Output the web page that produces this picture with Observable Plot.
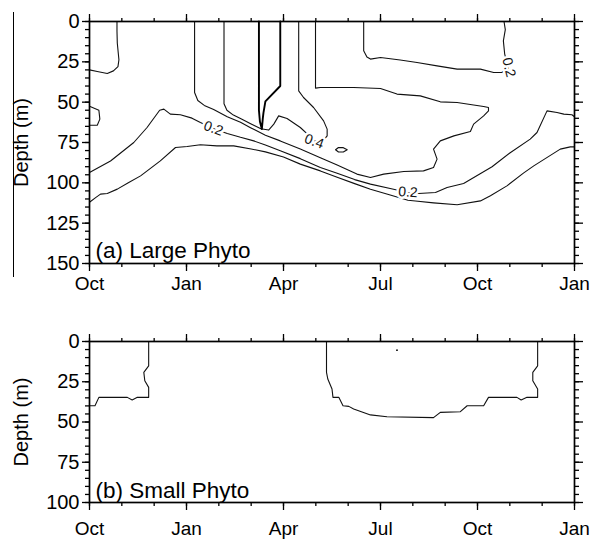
<!DOCTYPE html>
<html><head><meta charset="utf-8">
<script src="https://cdn.jsdelivr.net/npm/d3@7"></script>
<script src="https://cdn.jsdelivr.net/npm/@observablehq/plot@0.6"></script>
<style>
body{margin:0;background:#fff;}
#wrap{position:relative;width:590px;height:539px;overflow:hidden;font-family:"Liberation Sans",Arial,sans-serif;}
#wrap svg{display:block;}
#edge{position:absolute;left:13px;top:12px;height:265px;border-left:1px solid #000;}
</style></head><body>
<div id="wrap"><div id="edge"></div></div>
<script>
// x: months since October (0 = Oct, 15 = following-year Jan)
const monthTicks = [0, 3, 6, 9, 12, 15];
const monthLabels = ["Oct", "Jan", "Apr", "Jul", "Oct", "Jan"];
const minorMonths = [0,1,2,3,4,5,6,7,8,9,10,11,12,13,14,15];
const depthTicksA = [0, 25, 50, 75, 100, 125, 150];
const depthMinorA = [0,5,10,15,20,25,30,35,40,45,50,55,60,65,70,75,80,85,90,95,100,105,110,115,120,125,130,135,140,145,150];
const depthTicksB = [0, 25, 50, 75, 100];
const depthMinorB = [0,5,10,15,20,25,30,35,40,45,50,55,60,65,70,75,80,85,90,95,100];
const panelLabels = ["(a) Large Phyto", "(b) Small Phyto"];
const yTitle = "Depth (m)";

// Panel (a) contour lines: month, depth
const a1M = [0.85,0.85,0.86,0.91,0.88,0.74,0.55,0.24,0.0];
const a1D = [0,6,13.5,23.7,28,30.6,32.2,31,30];
const a2M = [0,0.29,0.32,0.24,0];
const a2D = [52.5,55,60.5,64.3,64.3];
const a3M = [0,0.65,1.37,1.78,2.17,2.3,2.5,2.81,3.17,3.43,3.83,4.26,4.67,5.08,5.44,5.9,6.52,7.14,7.66,8.2,8.69,9.3,9.85,10.18,10.7,11.06,11.57,12.45,13.0,13.63,13.84,14.15,14.46,14.67,14.92,15];
const a3D = [93.6,86.5,75,65.7,55,54.3,57.4,57.8,59.9,62.6,66.3,69.4,71.8,74,76.5,80.1,85,90.5,94,98,100.8,103.5,106,106.6,106,102.9,100.4,90,81.5,72.9,68.8,55.4,56.4,57.4,57.8,59];
const a4M = [0,0.2,0.34,0.55,0.86,1.2,1.58,2.19,2.66,3.02,3.43,3.94,4.46,5.0,5.44,6.0,6.52,7.14,7.66,8.2,8.69,9.3,9.85,10.08,10.64,11.37,12.09,12.4,12.91,13.42,13.74,14.56,14.87,15];
const a4D = [112,109,107,106.6,103.9,100,95.7,86.4,78.1,77.5,76.4,77.1,77.1,79,80.8,84,88.4,92.6,96.5,100.5,104,107.5,110.8,111.3,112.4,113.6,111.2,108,101.9,94,89.5,79.1,77.7,77.7];
const a5M = [3.25,3.25,3.35,3.55,3.84,4.26,4.67,4.98,5.44,5.9,6.52,7.14,7.66,8.27,8.69,9.1,9.72,10.33,10.64,10.75,10.64,10.85,11.27,11.78,11.88,12.19,12.34,12.34,12.19,11.88,11.37,10.85,10.23,9.51,9.0,8.17,7.14,6.99,6.99];
const a5D = [0,44,49,52,54.5,59,62.5,65.8,70.5,74,79.1,84.5,89,94.6,96.7,94.6,93,92.6,90.5,85.3,79.1,74,70.9,68.2,63.6,58.5,55.4,53.3,52.7,51.8,50.2,49.8,46.1,45,41.5,40.9,40.9,41.3,0];
const a6M = [4.16,4.16,4.25,4.45,4.7,5.0,5.3,5.54,5.7,5.85,6.11,6.52,6.75,6.95,7.2,7.35,7.35,7.24,6.93,6.62,6.47,6.47];
const a6D = [0,51,55,58,60.5,63.5,66.5,67.3,63.6,58.5,60.1,65.7,70,74,74.5,70.9,66.7,61.6,53.3,47.1,43,0];
const a7M = [5.24,5.24,5.27,5.33,5.36,5.38,5.44,5.9,5.9];
const a7D = [0,55,62,66.7,60,56.6,49.5,40,0];
const a8M = [7.61,7.7,7.85,7.97,7.85,7.7,7.61];
const a8D = [79.5,78.1,78.2,79.5,80.9,80.9,79.5];
const a9M = [12.82,12.86,12.8,12.84,12.9,12.95,12.75,12.5,12.09,11.37,10.75,10.13,9.61,9.0,8.69,8.58,8.48,8.48];
const a9D = [0,5,12,20,25,29,31.6,31.6,29.5,29.5,27.5,25.4,23.9,22.3,23.3,22,18.2,0];
// contour labels (a)
const aLabM = [3.83, 6.95, 9.85, 12.97];
const aLabD = [66.3, 74.3, 105.8, 28.5];
const aLabT = ["0.2", "0.4", "0.2", "0.2"];
const aLabR = [20, 20, 4, 76];

// Panel (b) contour lines
const b1M = [0,0.17,0.29,1.17,1.32,1.48,1.83,1.83,1.71,1.68,1.83,1.83];
const b1D = [39.9,39.9,34.7,34.7,36.3,34.7,34.7,28.5,24.4,19.2,15.1,0];
const b2M = [7.33,7.33,7.37,7.5,7.53,7.71,7.84,8.02,8.17,8.69,9.2,10.64,10.85,11.47,11.68,12.19,12.34,13.22,13.35,13.53,13.86,13.86,13.71,13.71,13.86,13.86];
const b2D = [0,19.2,23.3,29.5,34.7,34.7,39.9,40.3,41.9,45.6,46.7,47.3,44,43.6,39.9,39.9,34.7,34.7,36.3,34.7,34.7,29.5,24.4,19.2,15.1,0];
const bDotM = [9.51];
const bDotD = [5.4];

function rows(id, ms, ds) { return ms.map((m, i) => ({id, m, d: ds[i]})); }
const fmtMonth = m => monthLabels[monthTicks.indexOf(m)];
const FONT = '"Liberation Sans", Arial, Helvetica, sans-serif';

function axes(yTicks, yMinor, padX) {
  const k = {stroke: "#000", strokeWidth: 1.3, color: "#000"};
  return [
    Plot.axisX({...k, anchor: "bottom", ticks: monthTicks, tickSize: 8, tickPadding: padX, tickFormat: fmtMonth, label: null, fontSize: 19}),
    Plot.axisX({...k, anchor: "bottom", ticks: minorMonths, tickSize: 4, fill: "none", label: null}),
    Plot.axisX({...k, anchor: "top", ticks: monthTicks, tickSize: 8, fill: "none", label: null}),
    Plot.axisX({...k, anchor: "top", ticks: minorMonths, tickSize: 4, fill: "none", label: null}),
    Plot.axisY({...k, anchor: "left", ticks: yTicks, tickSize: 7, tickPadding: 3, label: yTitle, labelAnchor: "center", labelOffset: 76, labelArrow: false, fontSize: 20}),
    Plot.axisY({...k, anchor: "left", ticks: yMinor, tickSize: 4, fill: "none", label: null}),
    Plot.axisY({...k, anchor: "right", ticks: yTicks, tickSize: 8, fill: "none", label: null}),
    Plot.axisY({...k, anchor: "right", ticks: yMinor, tickSize: 4, fill: "none", label: null})
  ];
}

const thinA = [].concat(rows("a1", a1M, a1D), rows("a2", a2M, a2D), rows("a3", a3M, a3D), rows("a4", a4M, a4D),
  rows("a5", a5M, a5D), rows("a6", a6M, a6D), rows("a8", a8M, a8D), rows("a9", a9M, a9D));
const thickA = rows("a7", a7M, a7D);
const labA = aLabM.map((m, i) => ({m, d: aLabD[i], t: aLabT[i], r: aLabR[i]}));

const plotA = Plot.plot({
  width: 590, height: 300,
  marginLeft: 89, marginRight: 16, marginTop: 21, marginBottom: 37,
  style: {fontFamily: FONT, fontSize: "20px", color: "#000", background: "#fff"},
  x: {domain: [0, 15]},
  y: {domain: [0, 150], reverse: true},
  marks: [
    Plot.line(thinA, {x: "m", y: "d", z: "id", stroke: "#111", strokeWidth: 1.1}),
    Plot.line(thickA, {x: "m", y: "d", z: "id", stroke: "#000", strokeWidth: 1.9}),
    Plot.text(labA, {x: "m", y: "d", text: "t", rotate: "r", fontSize: 14, fill: "#111", stroke: "#fff", strokeWidth: 5}),
    Plot.text([panelLabels[0]], {frameAnchor: "bottom-left", text: d => d, textAnchor: "start", lineAnchor: "bottom", dx: 6, dy: -6, fontSize: 22.5, fill: "#000"}),
    Plot.frame({stroke: "#000", strokeWidth: 1.7}),
    ...axes(depthTicksA, depthMinorA, 5)
  ]
});

const thinB = [].concat(rows("b1", b1M, b1D), rows("b2", b2M, b2D));
const dotB = bDotM.map((m, i) => ({m, d: bDotD[i]}));
const plotB = Plot.plot({
  width: 590, height: 239,
  marginLeft: 89, marginRight: 16, marginTop: 41, marginBottom: 37,
  style: {fontFamily: FONT, fontSize: "20px", color: "#000", background: "#fff"},
  x: {domain: [0, 15]},
  y: {domain: [0, 100], reverse: true},
  marks: [
    Plot.line(thinB, {x: "m", y: "d", z: "id", stroke: "#111", strokeWidth: 1.1}),
    Plot.dot(dotB, {x: "m", y: "d", r: 0.9, fill: "#000", stroke: null}),
    Plot.text([panelLabels[1]], {frameAnchor: "bottom-left", text: d => d, textAnchor: "start", lineAnchor: "bottom", dx: 6, dy: -5, fontSize: 22.5, fill: "#000"}),
    Plot.frame({stroke: "#000", strokeWidth: 1.7}),
    ...axes(depthTicksB, depthMinorB, 11)
  ]
});

const wrap = document.getElementById("wrap");
wrap.appendChild(plotA);
wrap.appendChild(plotB);
</script>
</body></html>
